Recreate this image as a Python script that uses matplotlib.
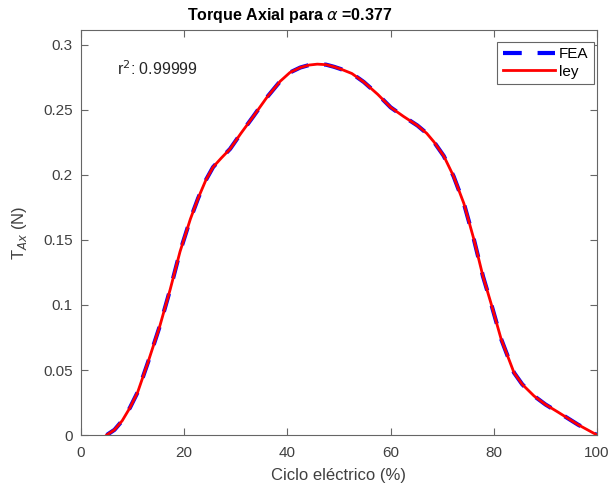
import matplotlib
matplotlib.use("Agg")
import matplotlib.pyplot as plt

plt.rcParams['font.family'] = ['Liberation Sans', 'DejaVu Sans']

# Axial torque over one electrical cycle
ciclo_fea = [5, 6.5, 8, 9.5, 11, 13, 15.3, 17.3, 19.2, 21.2, 22.7, 24.2, 25.6,
             27.2, 28.9, 31, 33.4, 36, 38.6, 40.5, 42.5, 44.2, 45.8, 47.5, 49,
             50.3, 52.5, 54.8, 57.5, 60, 62.5, 65.2, 67, 68.4, 70.3, 72.2,
             74.2, 76.1, 77.9, 79.4, 81.4, 83.9, 85.5, 87.8, 90, 92.4, 96.3, 100]
torque_fea = [0, 0.004, 0.011, 0.021, 0.033, 0.056, 0.084, 0.112, 0.141, 0.166,
              0.182, 0.196, 0.206, 0.213, 0.22, 0.232, 0.245, 0.2595, 0.272,
              0.2788, 0.2826, 0.2845, 0.2852, 0.2848, 0.2832, 0.2815, 0.278,
              0.2715, 0.262, 0.252, 0.245, 0.238, 0.232, 0.2254, 0.2146, 0.199,
              0.178, 0.151, 0.122, 0.102, 0.074, 0.048, 0.039, 0.030, 0.0235,
              0.0177, 0.008, 0]

ciclo_ley = list(ciclo_fea)
torque_ley = list(torque_fea)

r2_text = "r$^2$: 0.99999"
x_ticks = [0, 20, 40, 60, 80, 100]
y_ticks = [0, 0.05, 0.1, 0.15, 0.2, 0.25, 0.3]
y_tick_labels = ["0", "0.05", "0.1", "0.15", "0.2", "0.25", "0.3"]

fig = plt.figure(figsize=(6.13, 4.91), dpi=100)
ax = fig.add_axes([0.132, 0.114, 0.842, 0.825])

axis_gray = (0.4, 0.4, 0.4)
text_gray = (0.25, 0.25, 0.25)
ax.plot(ciclo_fea, torque_fea, color=(0, 0, 1), lw=3,
        linestyle=(0, (4.5, 3.8)), label="FEA")
ax.plot(ciclo_ley, torque_ley, color=(1, 0, 0), lw=2, label="ley")

ax.set_xlim(0, 100)
ax.set_ylim(0, 0.3115)
ax.set_xticks(x_ticks)
ax.set_yticks(y_ticks)
ax.set_yticklabels(y_tick_labels)

ax.tick_params(direction='in', top=True, right=True, length=5, width=0.8,
               colors=axis_gray, labelsize=11, labelcolor=text_gray)
ax.tick_params(axis='x', pad=8)
ax.tick_params(axis='y', pad=6)
for sp in ax.spines.values():
    sp.set_color(axis_gray)
    sp.set_linewidth(0.8)
    sp.set_zorder(3)

ax.set_xlabel("Ciclo eléctrico (%)", fontsize=12, color=text_gray, labelpad=6)
ax.set_ylabel("T$_{Ax}$ (N)", fontsize=12, color=text_gray, labelpad=10)
ax.set_title(r"Torque Axial para $\alpha$ =0.377", fontsize=11.5,
             fontweight='bold', pad=7, x=0.405)

ax.text(7, 0.2815, r2_text, fontsize=11.5, color=(0.15, 0.15, 0.15),
        va='center')

leg = ax.legend(loc='upper right', bbox_to_anchor=(0.994, 0.97),
                fontsize=11, handlelength=3.4,
                borderpad=0.35, labelspacing=0.2, handletextpad=0.3,
                borderaxespad=0.0, fancybox=False, framealpha=1)
leg.get_frame().set_edgecolor(axis_gray)
leg.get_frame().set_linewidth(0.8)

fig.savefig("out.png", dpi=100)
